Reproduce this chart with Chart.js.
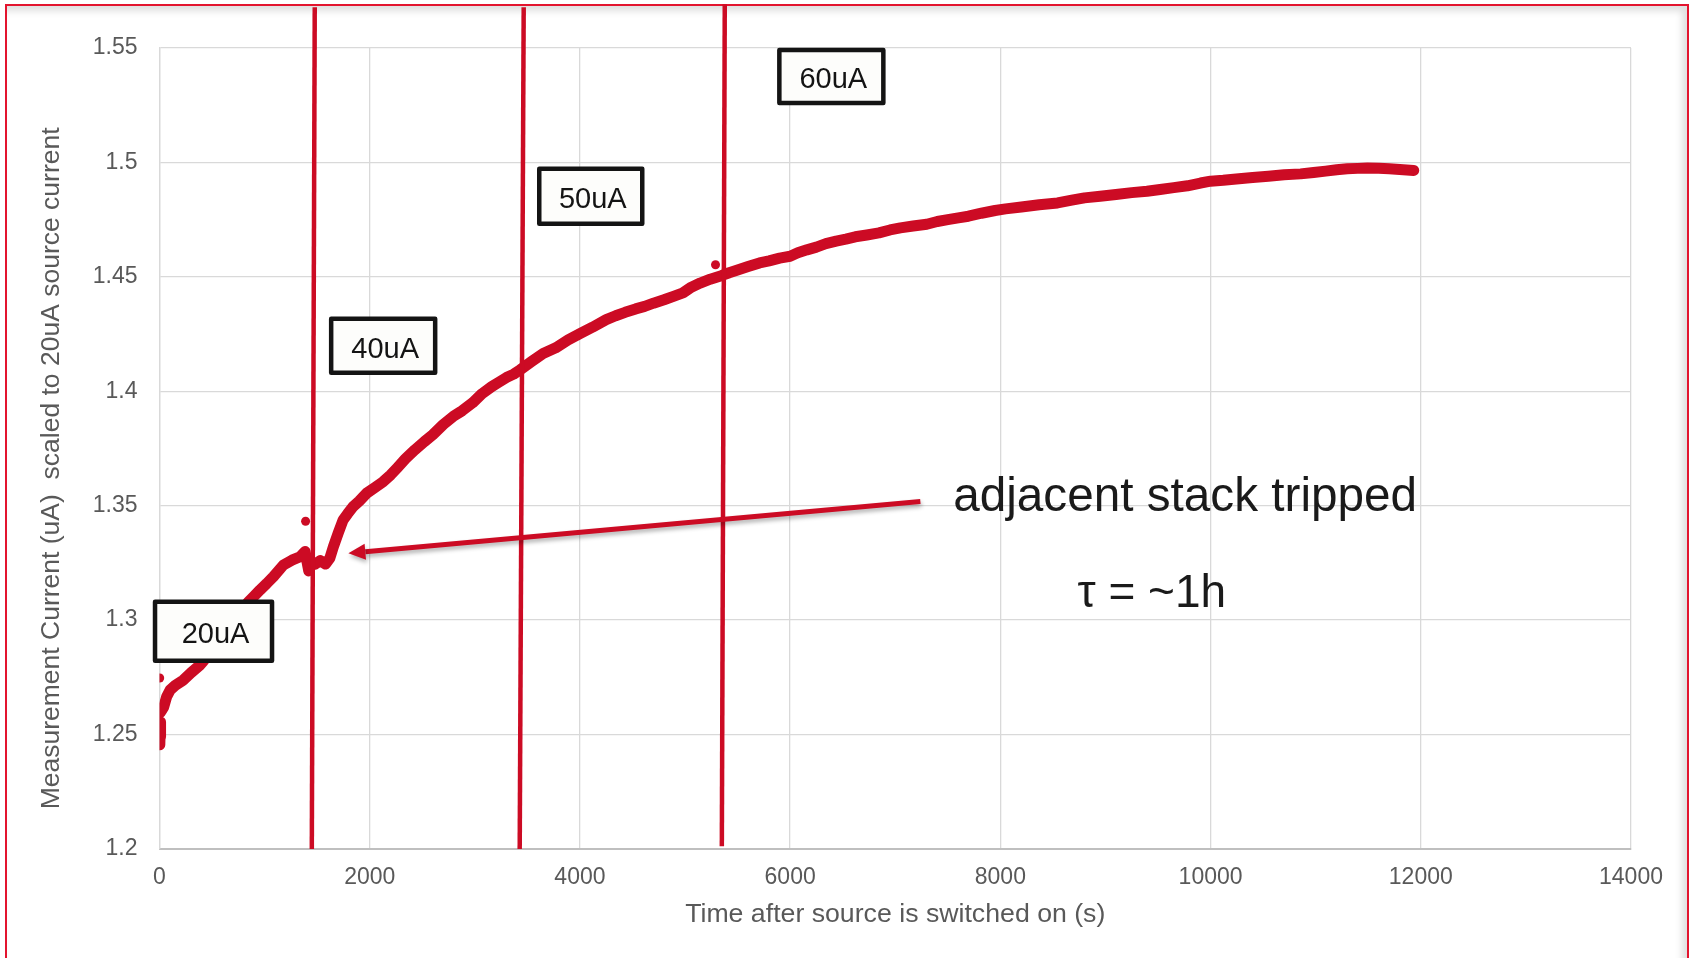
<!DOCTYPE html>
<html><head><meta charset="utf-8">
<script src="https://cdn.jsdelivr.net/npm/chart.js@4.4.0/dist/chart.umd.min.js"></script>
<style>
html,body{margin:0;padding:0;background:#fff;width:1692px;height:958px;overflow:hidden;}
#frame{position:absolute;left:5px;top:4px;width:1684px;height:990px;border:2px solid #e3142e;box-shadow:inset -5px 5px 7px rgba(0,0,0,0.13);box-sizing:border-box;}
#c{position:absolute;left:0;top:0;}
</style></head><body>
<div id="frame"></div>
<canvas id="c" width="1692" height="958"></canvas>
<script>
// ---- data ----
const timeS = [3, 5, 8, 12, null,
  6, 20, 40, 68, 100, 150, 227, 300, 386, 417, 550, 700, 846, 900, 957, 1020, 1084, 1179, 1260, 1338, 1385,
  1420, 1440, 1480, 1530, 1580, 1620, 1654, 1700, 1747, 1790, 1842, 1900, 1972, 2050, 2128, 2200, 2261, 2340,
  2430, 2520, 2600, 2700, 2794, 2880, 2980, 3070, 3159, 3230, 3300, 3370, 3432, 3540, 3650, 3770, 3888, 4000,
  4120, 4250, 4340, 4430, 4530, 4616, 4700, 4800, 4890, 4980, 5060, 5144, 5240, 5345, 5420, 5500, 5600, 5709,
  5800, 5900, 6000, 6073, 6160, 6250, 6340, 6438, 6530, 6620, 6730, 6845, 6950, 7049, 7170, 7300, 7400, 7500,
  7600, 7696, 7820, 7950, 8050, 8200, 8370, 8544, 8680, 8800, 8950, 9100, 9250, 9395, 9520, 9650, 9780, 9904,
  10000, 10120, 10245, 10400, 10550, 10700, 10857, 10980, 11095, 11200, 11300, 11400, 11492, 11600, 11700, 11800, 11933];
const currentUA = [1.2455, 1.249, 1.2525, 1.2555, null,
  1.2595, 1.2605, 1.262, 1.2665, 1.2694, 1.2715, 1.2738, 1.277, 1.2804, 1.2821, 1.290, 1.299, 1.308, 1.3105, 1.3132, 1.316, 1.319, 1.3241, 1.3262, 1.3277, 1.330,
  1.3215, 1.324, 1.3245, 1.326, 1.3245, 1.327, 1.332, 1.338, 1.3438, 1.3465, 1.3496, 1.352, 1.3555, 1.358, 1.3605, 1.3635, 1.3665, 1.3705,
  1.3744, 1.378, 1.381, 1.3855, 1.389, 1.3915, 1.395, 1.399, 1.402, 1.404, 1.406, 1.4075, 1.4094, 1.413, 1.4165, 1.419, 1.4225, 1.4252,
  1.428, 1.4313, 1.433, 1.4345, 1.436, 1.4371, 1.4385, 1.440, 1.4415, 1.443, 1.4455, 1.4473, 1.449, 1.4505, 1.4518, 1.453, 1.4545, 1.4561,
  1.457, 1.4582, 1.459, 1.4605, 1.4618, 1.463, 1.4645, 1.4656, 1.4665, 1.4675, 1.4683, 1.4692, 1.4705, 1.4714, 1.4722, 1.473, 1.4742, 1.475,
  1.4758, 1.4765, 1.4778, 1.479, 1.4797, 1.4805, 1.4815, 1.4823, 1.4835, 1.4845, 1.4852, 1.486, 1.4868, 1.4874, 1.4882, 1.489, 1.4898, 1.491,
  1.4918, 1.4922, 1.4928, 1.4934, 1.494, 1.4946, 1.495, 1.4956, 1.4962, 1.4968, 1.4972, 1.4974, 1.4976, 1.4975, 1.4972, 1.4969, 1.4965];
const outlierTimeS = [2, 1390, 5290];
const outlierCurrentUA = [1.2747, 1.3432, 1.4553];
// source-current change markers (top and bottom ends of each drawn line)
const stepTimeTopS = [1477, 3465, 5378];
const stepTimeBottomS = [1449, 3427, 5350];
const stepCurrentTopUA = [1.5678, 1.5678, 1.5691];
const stepCurrentBottomUA = [1.2, 1.2, 1.2012];
const stepLabels = ['20uA', '40uA', '50uA', '60uA'];
const xTickLabels = ['0', '2000', '4000', '6000', '8000', '10000', '12000', '14000'];
const yTickLabels = ['1.2', '1.25', '1.3', '1.35', '1.4', '1.45', '1.5', '1.55'];
const noteText = 'adjacent stack tripped';
const tauText = 'τ = ~1h';

// ---- build datasets ----
const RED = '#cc0b24';
const FONT = '"Liberation Sans", Arial, Helvetica, sans-serif';
const curvePts = timeS.map((t, i) => (t === null ? {x: NaN, y: null} : {x: t, y: currentUA[i]}));
const outPts = outlierTimeS.map((t, i) => ({x: t, y: outlierCurrentUA[i]}));
const stepSets = stepTimeTopS.map((t, i) => ({
  label: 'step' + i, type: 'line', order: 0, clip: false,
  data: [{x: stepTimeBottomS[i], y: stepCurrentBottomUA[i]}, {x: t, y: stepCurrentTopUA[i]}],
  borderColor: RED, borderWidth: 4.5, pointRadius: 0, showLine: true, borderCapStyle: 'butt'
}));

const annot = {
  id: 'annot',
  afterDatasetsDraw(chart) {
    const {ctx, scales: {x, y}} = chart;
    const P = (t, v) => [x.getPixelForValue(t), y.getPixelForValue(v)];
    ctx.save();
    // arrow
    const [tx, ty] = P(7239, 1.3518), [hx, hy] = P(1797, 1.3292);
    const ang = Math.atan2(hy - ty, hx - tx);
    const hl = 17, hw = 8;
    const bx = hx - hl * Math.cos(ang), by = hy - hl * Math.sin(ang);
    ctx.shadowColor = 'rgba(0,0,0,0.30)'; ctx.shadowBlur = 4; ctx.shadowOffsetX = 1; ctx.shadowOffsetY = 3;
    ctx.strokeStyle = RED; ctx.fillStyle = RED; ctx.lineWidth = 5; ctx.lineCap = 'butt';
    ctx.beginPath(); ctx.moveTo(tx, ty); ctx.lineTo(bx, by); ctx.stroke();
    ctx.beginPath(); ctx.moveTo(hx, hy);
    ctx.lineTo(bx + hw * Math.sin(ang), by - hw * Math.cos(ang));
    ctx.lineTo(bx - hw * Math.sin(ang), by + hw * Math.cos(ang));
    ctx.closePath(); ctx.fill();
    ctx.shadowColor = 'transparent';
    // notes
    ctx.fillStyle = '#1a1a1a'; ctx.textAlign = 'left'; ctx.textBaseline = 'alphabetic';
    ctx.font = '47.7px ' + FONT;
    const [n1x, n1y] = P(7551, 1.3477); ctx.fillText(noteText, n1x, n1y);
    ctx.font = '46px ' + FONT;
    const [n2x, n2y] = P(8734, 1.3059); ctx.fillText(tauText, n2x, n2y);
    // step boxes
    const boxes = [[514, 1.2952, 117, 59], [2128, 1.4199, 104, 54], [4103, 1.4852, 103, 55], [6392, 1.5376, 104, 53]];
    boxes.forEach((b, i) => {
      const [cx, cy] = P(b[0], b[1]);
      const w = b[2], h = b[3];
      ctx.fillStyle = '#fdfdfb'; ctx.strokeStyle = '#141414'; ctx.lineWidth = 4.5; ctx.lineJoin = 'round';
      ctx.beginPath(); ctx.rect(cx - w / 2, cy - h / 2, w, h); ctx.fill(); ctx.stroke();
      ctx.fillStyle = '#141414'; ctx.font = '29px ' + FONT; ctx.textAlign = 'center';
      ctx.fillText(stepLabels[i], cx + 2, cy + 12);
    });
    ctx.restore();
  }
};

new Chart(document.getElementById('c'), {
  type: 'scatter',
  data: {
    datasets: [
      ...stepSets,
      {label: 'outliers', order: 1, data: outPts, pointRadius: 4.5, pointBackgroundColor: RED, pointBorderWidth: 0, showLine: false},
      {label: 'current', order: 2, data: curvePts, showLine: true, spanGaps: false, borderColor: RED, borderWidth: 11,
       borderCapStyle: 'round', borderJoinStyle: 'round', pointRadius: 0, tension: 0}
    ]
  },
  options: {
    responsive: false, animation: false, devicePixelRatio: 1,
    layout: {padding: {left: 10, right: 61, top: 48, bottom: 10}},
    plugins: {legend: {display: false}, tooltip: {enabled: false}},
    scales: {
      x: {
        type: 'linear', min: 0, max: 14000,
        afterFit(s) { s.height = 99; },
        grid: {color: '#d9d9d9', lineWidth: 1.3, drawTicks: false},
        border: {color: '#bfbfbf', width: 2},
        ticks: {stepSize: 2000, padding: 15, color: '#595959', font: {family: FONT, size: 23},
                callback: (v, i) => xTickLabels[i]},
        title: {display: true, text: 'Time after source is switched on (s)', color: '#595959',
                font: {family: FONT, size: 26.7}, padding: {top: 0, bottom: 17}}
      },
      y: {
        type: 'linear', min: 1.2, max: 1.55,
        afterFit(s) { s.width = 149.5; },
        grid: {color: '#d9d9d9', lineWidth: 1.3, drawTicks: false},
        border: {color: '#d9d9d9', width: 1.3},
        ticks: {stepSize: 0.05, padding: 22, color: '#595959', font: {family: FONT, size: 23},
                callback: (v, i) => yTickLabels[i]},
        title: {display: true, text: 'Measurement Current (uA)  scaled to 20uA source current\u2002\u2002\u2002',
                color: '#595959', font: {family: FONT, size: 26.5}, padding: {top: 26, bottom: 0}}
      }
    }
  },
  plugins: [annot]
});
</script>
</body></html>
